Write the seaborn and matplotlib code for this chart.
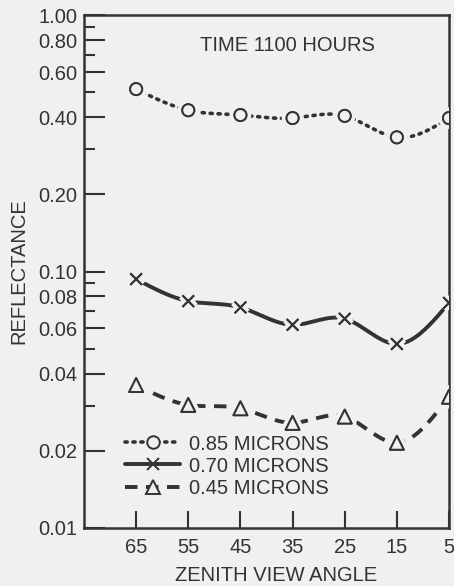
import numpy as np
import pandas as pd
import matplotlib
matplotlib.use("Agg")
import matplotlib.pyplot as plt
import matplotlib.patheffects as pe
from matplotlib.lines import Line2D
from matplotlib.ticker import FixedLocator, FixedFormatter, NullFormatter
import seaborn as sns

# ---- data ----
angles = [65, 55, 45, 35, 25, 15, 5]
refl_085 = [0.515, 0.426, 0.408, 0.397, 0.405, 0.334, 0.397]
refl_070 = [0.0935, 0.0767, 0.0725, 0.0620, 0.0655, 0.0522, 0.0755]
refl_045 = [0.0361, 0.0302, 0.0293, 0.0257, 0.0272, 0.0215, 0.0325]
series_labels = ["0.85 MICRONS", "0.70 MICRONS", "0.45 MICRONS"]
y_major = [0.01, 0.02, 0.04, 0.06, 0.08, 0.10, 0.20, 0.40, 0.60, 0.80, 1.00]
y_major_labels = ["0.01", "0.02", "0.04", "0.06", "0.08", "0.10", "0.20", "0.40", "0.60", "0.80", "1.00"]
y_minor = [0.03, 0.05, 0.07, 0.09, 0.3, 0.5, 0.7, 0.9]
x_ticks = [65, 55, 45, 35, 25, 15, 5]

BG = "#f0f0f0"
INK = "#333333"
FS = 14.5

sns.set_theme(style="white")
plt.rcParams["font.family"] = ["Liberation Sans", "DejaVu Sans"]


def natural_spline(x, y, xs):
    x = np.asarray(x, float); y = np.asarray(y, float)
    n = len(x); h = np.diff(x)
    A = np.zeros((n, n)); r = np.zeros(n)
    A[0, 0] = A[-1, -1] = 1.0
    for i in range(1, n - 1):
        A[i, i - 1] = h[i - 1]; A[i, i] = 2 * (h[i - 1] + h[i]); A[i, i + 1] = h[i]
        r[i] = 6 * ((y[i + 1] - y[i]) / h[i] - (y[i] - y[i - 1]) / h[i - 1])
    M = np.linalg.solve(A, r)
    out = np.empty_like(xs)
    for k, xv in enumerate(xs):
        i = min(max(np.searchsorted(x, xv) - 1, 0), n - 2)
        t1 = x[i + 1] - xv; t0 = xv - x[i]
        out[k] = (M[i] * t1 ** 3 + M[i + 1] * t0 ** 3) / (6 * h[i]) \
            + (y[i] / h[i] - M[i] * h[i] / 6) * t1 + (y[i + 1] / h[i] - M[i + 1] * h[i] / 6) * t0
    return out


fig = plt.figure(figsize=(4.54, 5.86), dpi=100, facecolor=BG)
ax = fig.add_axes([0.185, 0.099, 0.804, 0.875])
ax.set_facecolor(BG)

styles = [
    dict(ls=(0, (0.6, 1.6)), marker="o", lw=2.6, dash_capstyle="round"),
    dict(ls="-", marker="x", lw=2.8, dash_capstyle="butt"),
    dict(ls=(0, (3.2, 2.2)), marker="^", lw=2.8, dash_capstyle="butt"),
]

xa = np.array(angles[::-1], float)
xs = np.linspace(5, 65, 300)
for vals, lab, st in zip([refl_085, refl_070, refl_045], series_labels, styles):
    ya = np.log10(np.array(vals[::-1], float))
    ys = 10 ** natural_spline(xa, ya, xs)
    df = pd.DataFrame({"angle": xs, "refl": ys})
    sns.lineplot(data=df, x="angle", y="refl", ax=ax, color=INK, lw=st["lw"],
                 sort=False, estimator=None, zorder=2)
    l = ax.lines[-1]
    l.set_linestyle(st["ls"])
    l.set_dash_capstyle(st["dash_capstyle"])
    pts = pd.DataFrame({"angle": angles, "refl": vals})
    if st["marker"] == "x":
        sns.scatterplot(data=pts, x="angle", y="refl", ax=ax, marker="x", s=70,
                        color=INK, linewidth=1.4, zorder=3)
    else:
        sns.scatterplot(data=pts, x="angle", y="refl", ax=ax, marker=st["marker"],
                        s=100 if st["marker"] == "^" else 75, facecolor=BG,
                        edgecolor=INK, linewidth=1.4, zorder=3)
    ax.collections[-1].set_path_effects([pe.withStroke(linewidth=7, foreground=BG), pe.Normal()])

ax.set_yscale("log")
ax.set_ylim(0.01, 1.0)
ax.set_xlim(75, 5)
ax.yaxis.set_major_locator(FixedLocator(y_major))
ax.yaxis.set_major_formatter(FixedFormatter(y_major_labels))
ax.yaxis.set_minor_locator(FixedLocator(y_minor))
ax.yaxis.set_minor_formatter(NullFormatter())
ax.set_xticks(x_ticks)
ax.set_xticklabels([str(v) for v in x_ticks])

ax.tick_params(axis="y", which="major", direction="in", length=15, width=1.5, color=INK,
               labelsize=FS, labelcolor=INK, pad=5, left=True, right=False)
ax.tick_params(axis="y", which="minor", direction="in", length=8, width=1.5, color=INK,
               left=True, right=False)
ax.tick_params(axis="x", which="major", direction="in", length=12, width=1.5, color=INK,
               labelsize=FS, labelcolor=INK, pad=7, bottom=True, top=False)
for s in ax.spines.values():
    s.set_visible(True)
    s.set_color(INK)
    s.set_linewidth(1.8)

ax.set_xlabel("ZENITH VIEW ANGLE", fontsize=FS, color=INK)
ax.xaxis.set_label_coords(0.526, -0.074)
ax.set_ylabel("REFLECTANCE", fontsize=FS, color=INK, labelpad=7)
ax.text(0.556, 0.941, "TIME 1100 HOURS", transform=ax.transAxes, ha="center", va="center",
        fontsize=FS, color=INK)

handles = [
    Line2D([], [], color=INK, lw=2.6, ls=(0, (0.6, 1.6)), dash_capstyle="round", marker="o",
           ms=9, mfc=BG, mec=INK, mew=1.4),
    Line2D([], [], color=INK, lw=2.8, ls="-", marker="x", ms=9, mec=INK, mew=1.4),
    Line2D([], [], color=INK, lw=2.8, ls=(0, (3.2, 2.2)), marker="^", ms=10, mfc=BG,
           mec=INK, mew=1.4),
]
ax.legend(handles, series_labels, loc="upper left", bbox_to_anchor=(0.09, 0.198),
          borderaxespad=0, frameon=False, fontsize=FS, labelcolor=INK, handlelength=2.75,
          handletextpad=0.45, labelspacing=0.15, numpoints=1)

fig.savefig("out.png", dpi=100, facecolor=BG)
